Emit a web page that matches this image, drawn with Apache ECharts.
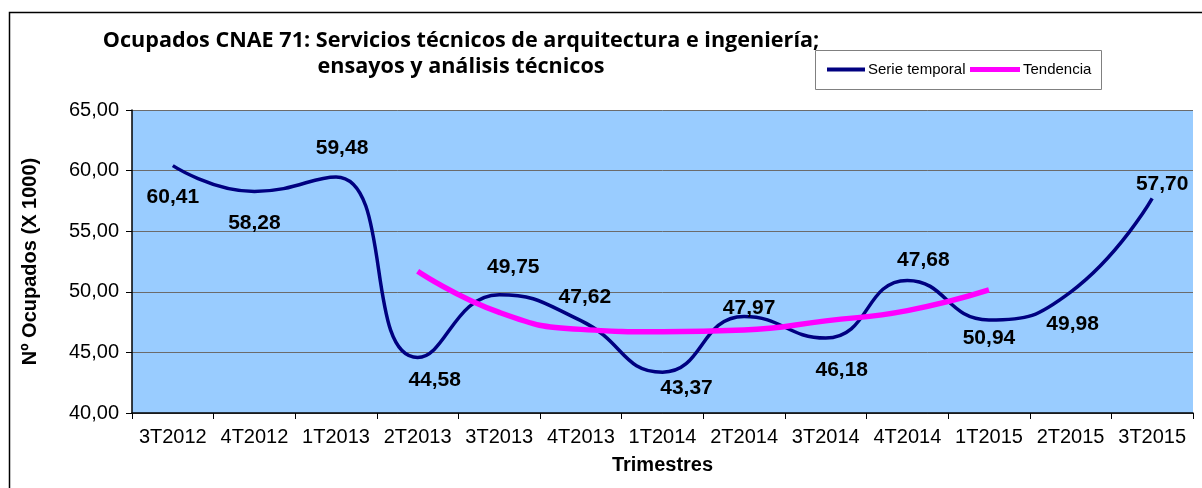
<!DOCTYPE html>
<html>
<head>
<meta charset="utf-8">
<script src="https://cdn.jsdelivr.net/npm/echarts@6/dist/echarts.min.js"></script>
<style>
html,body{margin:0;padding:0;background:#fff;}
#c{width:1202px;height:488px;}
</style>
</head>
<body>
<div id="c"></div>
<script>
var categories = ['3T2012','4T2012','1T2013','2T2013','3T2013','4T2013','1T2014','2T2014','3T2014','4T2014','1T2015','2T2015','3T2015'];
var serieTemporal = [60.41, 58.28, 59.48, 44.58, 49.75, 47.62, 43.37, 47.97, 46.18, 50.94, 47.68, 49.98, 57.70];
// labels exactly as printed on the reference (two are swapped there)
var serieLabels = ['60,41','58,28','59,48','44,58','49,75','47,62','43,37','47,97','46,18','47,68','50,94','49,98','57,70'];
var tendencia = [null, null, null, 51.7, 48.3, 46.9, 46.7, 46.85, 47.6, 48.45, 50.15, null, null];
var yMin = 40, yMax = 65, yStep = 5;

// label placement relative to its data point (pixels)
var labelOffsets = [[0,32],[0,32],[6,-29],[17,23],[14,-28],[4,-23],[24,16],[5,-8],[16,32],[16,-20],[0,18],[2,32],[10,-14]];

var chart = echarts.init(document.getElementById('c'), null, {renderer:'canvas'});
var legendText = {fontFamily: 'Liberation Sans', fontSize: 15, color: '#000', padding: [0,0,0,-2], lineHeight: 19};
var option = {
  backgroundColor: '#ffffff',
  animation: false,
  title: {
    text: 'Ocupados CNAE 71: Servicios técnicos de arquitectura e ingeniería;\nensayos y análisis técnicos',
    left: 456, top: 23, textAlign: 'center',
    textStyle: {fontFamily: 'Open Sans', fontWeight: 'bold', fontSize: 21.6, lineHeight: 26, color: '#000'}
  },
  legend: [{
    left: 827, top: 60, padding: 0,
    icon: 'rect', itemWidth: 38, itemHeight: 4,
    textStyle: legendText,
    data: [{name: 'Serie temporal', itemStyle: {color: '#000080'}}]
  }, {
    left: 970, top: 60, padding: 0,
    icon: 'rect', itemWidth: 50, itemHeight: 5,
    textStyle: legendText,
    data: [{name: 'Tendencia', itemStyle: {color: '#FF00FF'}}]
  }],
  graphic: [{
    type: 'rect', left: 7, top: 10, silent: true, z: -10,
    shape: {width: 1300, height: 600},
    style: {fill: 'none', stroke: '#000', lineWidth: 1.5}
  }, {
    type: 'rect', left: 815, top: 50, silent: true, z: -5,
    shape: {width: 286, height: 39},
    style: {fill: '#fff', stroke: '#808080', lineWidth: 1}
  }],
  grid: {left: 132, right: 9, top: 110, bottom: 75, show: true, backgroundColor: '#99CCFF', borderWidth: 0},
  xAxis: {
    type: 'category', data: categories, boundaryGap: true,
    name: 'Trimestres', nameLocation: 'middle', nameGap: 42,
    nameTextStyle: {fontFamily: 'Liberation Sans', fontWeight: 'bold', fontSize: 20, color: '#000'},
    axisLine: {lineStyle: {color: '#000', width: 1.5}},
    axisTick: {show: true, length: 6, lineStyle: {color: '#000'}},
    axisLabel: {fontFamily: 'Liberation Sans', fontSize: 20, color: '#000', margin: 14, interval: 0},
    splitLine: {show: false}
  },
  yAxis: {
    type: 'value', min: yMin, max: yMax, interval: yStep,
    name: 'Nº Ocupados (X 1000)', nameLocation: 'middle', nameRotate: 90, nameGap: 92,
    nameTextStyle: {fontFamily: 'Liberation Sans', fontWeight: 'bold', fontSize: 20, color: '#000'},
    axisLine: {show: true, lineStyle: {color: '#000', width: 1.5}},
    axisTick: {show: true, length: 6, lineStyle: {color: '#000'}},
    axisLabel: {fontFamily: 'Liberation Sans', fontSize: 20, color: '#000', margin: 13,
      formatter: function(v){ return v.toFixed(2).replace('.', ','); }},
    splitLine: {show: true, lineStyle: {color: '#6b6b6b', width: 1}}
  },
  series: [{
    name: 'Serie temporal', type: 'line', data: serieTemporal, smooth: 0.5,
    symbol: 'none',
    itemStyle: {color: '#000080'},
    lineStyle: {color: '#000080', width: 3.5},
    z: 3
  }, {
    name: 'Tendencia', type: 'line', data: tendencia, smooth: 0.5,
    symbol: 'none', connectNulls: false,
    itemStyle: {color: '#FF00FF'},
    lineStyle: {color: '#FF00FF', width: 5.5},
    z: 4
  }, {
    name: 'Etiquetas', type: 'custom', silent: true, z: 10,
    data: serieTemporal.map(function(v, i){ return [i, v]; }),
    renderItem: function(params, api){
      var p = api.coord([api.value(0), api.value(1)]);
      var o = labelOffsets[params.dataIndex];
      return {
        type: 'text', x: p[0] + o[0], y: p[1] + o[1],
        style: {text: serieLabels[params.dataIndex], fill: '#000', align: 'center', verticalAlign: 'middle',
          font: 'bold 21px "Liberation Sans", Arial, sans-serif'}
      };
    }
  }]
};
chart.setOption(option);
</script>
</body>
</html>
